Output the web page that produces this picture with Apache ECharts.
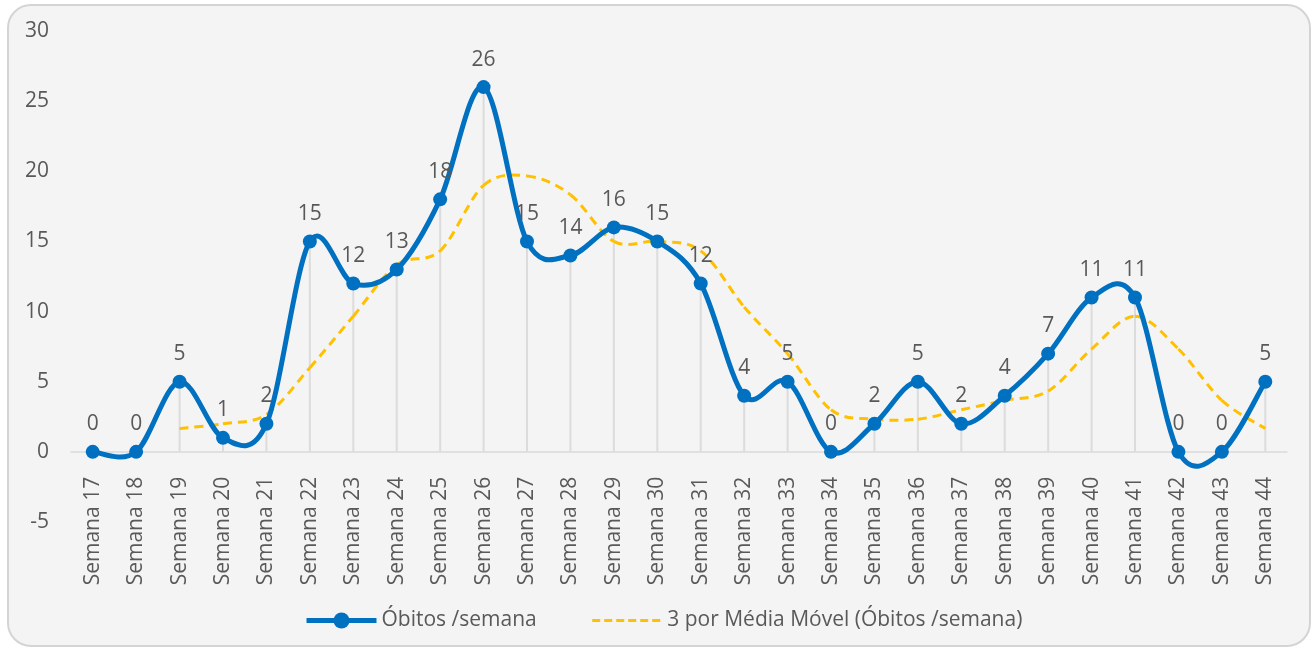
<!DOCTYPE html>
<html>
<head>
<meta charset="utf-8">
<script src="https://cdn.jsdelivr.net/npm/echarts@6/dist/echarts.min.js"></script>
<style>
html,body{margin:0;padding:0;background:#ffffff;}
#frame{position:absolute;left:7px;top:4px;width:1300px;height:639px;border:2px solid #d4d4d4;border-radius:24px;background:#f4f4f4;}
#chart{position:absolute;left:0;top:0;width:1314px;height:649px;}
</style>
</head>
<body>
<div id="frame"></div>
<div id="chart"></div>
<script>
const categories = ['Semana 17','Semana 18','Semana 19','Semana 20','Semana 21','Semana 22','Semana 23','Semana 24','Semana 25','Semana 26','Semana 27','Semana 28','Semana 29','Semana 30','Semana 31','Semana 32','Semana 33','Semana 34','Semana 35','Semana 36','Semana 37','Semana 38','Semana 39','Semana 40','Semana 41','Semana 42','Semana 43','Semana 44'];
const obitos = [0,0,5,1,2,15,12,13,18,26,15,14,16,15,12,4,5,0,2,5,2,4,7,11,11,0,0,5];
const mediaMovel = [null,null,1.67,2,2.67,6,9.67,13.33,14.33,19,19.67,18.33,15,15,14.33,10.33,7,3,2.33,2.33,3,3.67,4.33,7.33,9.67,7.33,3.67,1.67];
const yTicks = {min:-5, max:30, interval:5};

const NAME_OB = 'Óbitos /semana';
const NAME_MA = '3 por Média Móvel (Óbitos /semana)';
const txt = '#595959';
const font = 'Open Sans';
const blue = '#0070c0';
const yellow = '#ffc000';

// Excel-like smoothed segment (Catmull-Rom, tension 1/6) drawn through the axes' scales
function smoothSegment(values, stroke, width, dash) {
  return function (params, api) {
    const i = params.dataIndex;
    if (i >= values.length - 1) return null;
    const v1 = values[i], v2 = values[i + 1];
    if (v1 == null || v2 == null) return null;
    const p1 = api.coord([i, v1]);
    const p2 = api.coord([i + 1, v2]);
    const p0 = (i > 0 && values[i - 1] != null) ? api.coord([i - 1, values[i - 1]]) : p1;
    const p3 = (i + 2 < values.length && values[i + 2] != null) ? api.coord([i + 2, values[i + 2]]) : p2;
    const c1 = [p1[0] + (p2[0] - p0[0]) / 6, p1[1] + (p2[1] - p0[1]) / 6];
    const c2 = [p2[0] - (p3[0] - p1[0]) / 6, p2[1] - (p3[1] - p1[1]) / 6];
    return {
      type: 'bezierCurve',
      shape: {x1: p1[0], y1: p1[1], cpx1: c1[0], cpy1: c1[1], cpx2: c2[0], cpy2: c2[1], x2: p2[0], y2: p2[1]},
      style: {stroke: stroke, lineWidth: width, fill: null, lineDash: dash || null, lineCap: dash ? 'butt' : 'round'},
      silent: true
    };
  };
}

const chart = echarts.init(document.getElementById('chart'));
chart.setOption({
  backgroundColor: 'transparent',
  textStyle: {fontFamily: font},
  grid: {left: 71, right: 27, top: 31, bottom: 127},
  legend: {
    top: 605, left: 299,
    itemWidth: 70, itemHeight: 20, itemGap: 54,
    textStyle: {color: txt, fontSize: 21, fontFamily: font},
    data: [
      {name: NAME_OB, lineStyle: {opacity: 1, color: blue, width: 5}},
      {name: NAME_MA, lineStyle: {opacity: 1, color: yellow, width: 3, type: [8, 4]}, itemStyle: {opacity: 0}}
    ]
  },
  xAxis: {
    type: 'category', data: categories, boundaryGap: true,
    offset: -70.14,
    axisLine: {onZero: false, lineStyle: {color: '#d9d9d9', width: 1.5}},
    axisTick: {show: false},
    splitLine: {show: false},
    axisLabel: {rotate: 90, color: txt, fontSize: 21, fontFamily: font, margin: 25, interval: 0}
  },
  yAxis: {
    type: 'value', min: yTicks.min, max: yTicks.max, interval: yTicks.interval,
    axisLine: {show: false}, axisTick: {show: false}, splitLine: {show: false},
    axisLabel: {color: txt, fontSize: 21, fontFamily: font, margin: 22}
  },
  series: [
    {
      name: 'drop', type: 'bar', data: obitos, barWidth: 2, silent: true,
      itemStyle: {color: '#dcdcdc'}, z: 1
    },
    {
      name: 'maCurve', type: 'custom', data: mediaMovel.map((v, i) => [i, v == null ? 0 : v]),
      renderItem: smoothSegment(mediaMovel, yellow, 3, [9, 6]), z: 3, silent: true
    },
    {
      name: NAME_MA, type: 'line', data: mediaMovel, symbol: 'none',
      lineStyle: {color: yellow, width: 3, type: [9, 6], opacity: 0},
      itemStyle: {color: yellow}, z: 3, silent: true
    },
    {
      name: 'obCurve', type: 'custom', data: obitos.map((v, i) => [i, v]),
      renderItem: smoothSegment(obitos, blue, 5), z: 4, silent: true
    },
    {
      name: NAME_OB, type: 'line', data: obitos,
      symbol: 'circle', symbolSize: 14,
      lineStyle: {color: blue, width: 5, opacity: 0},
      itemStyle: {color: blue},
      label: {show: true, position: 'top', distance: 10, color: txt, fontSize: 21, fontFamily: font},
      z: 5
    }
  ]
});
</script>
</body>
</html>
